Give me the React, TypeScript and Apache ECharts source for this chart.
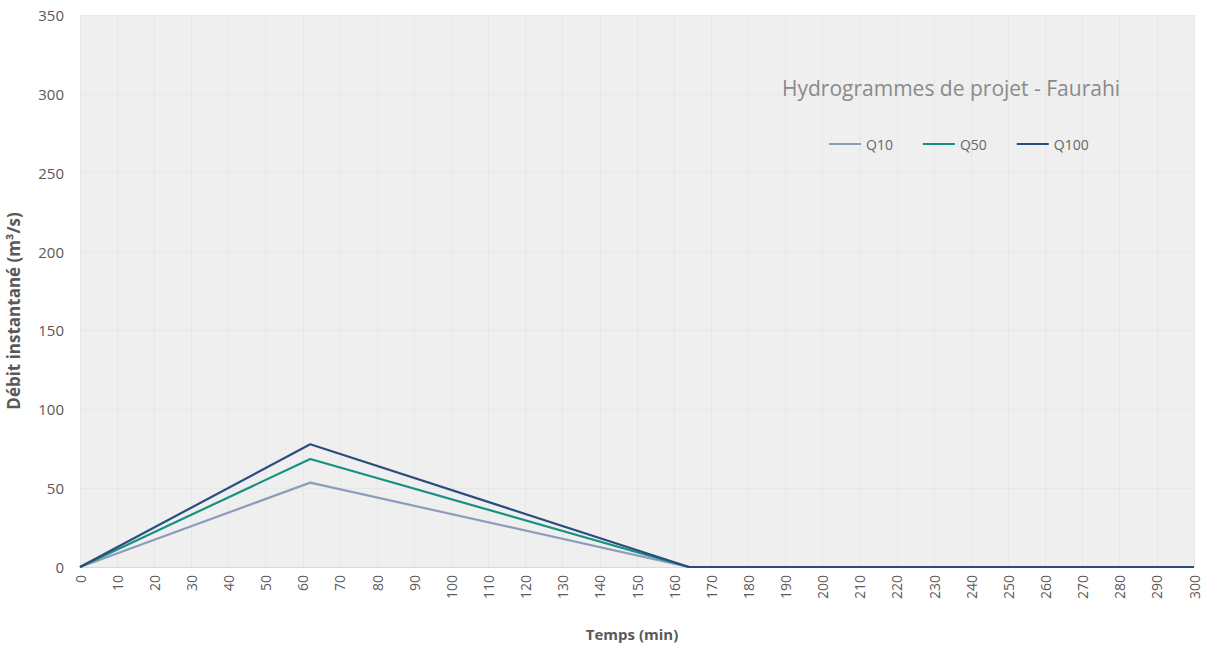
import React, { useEffect, useRef } from "react";
import * as echarts from "echarts";

const times = [0, 62, 164, 300];
const q10 = [0, 53.5, 0, 0];
const q50 = [0, 68.5, 0, 0];
const q100 = [0, 77.8, 0, 0];
const seriesNames = ["Q10", "Q50", "Q100"];
const colors = ["#8e9cbc", "#17917f", "#2b4d7e"];

export default function App() {
  const ref = useRef<HTMLDivElement>(null);
  useEffect(() => {
    document.body.style.margin = "0";
    const chart = echarts.init(ref.current!, null, { renderer: "svg" });
    const mk = (vals: number[]) => times.map((t, i) => [t, vals[i]]);
    const all = [q10, q50, q100];
    chart.setOption({
      animation: false,
      backgroundColor: "#ffffff",
      textStyle: { fontFamily: "Open Sans" },
      title: {
        text: "Hydrogrammes de projet - Faurahi",
        left: 777,
        top: 72,
        textStyle: { fontSize: 21, fontWeight: "normal", color: "#8a8a8a", fontFamily: "Open Sans" },
      },
      legend: {
        left: 824,
        top: 132,
        itemWidth: 32,
        itemHeight: 2,
        itemGap: 30,
        icon: "rect",
        textStyle: { fontSize: 14, color: "#666", fontFamily: "Open Sans" },
        data: seriesNames,
      },
      grid: {
        left: 80,
        right: 15,
        top: 15,
        bottom: 86,
        show: true,
        backgroundColor: "#efefef",
        borderWidth: 0,
        containLabel: false,
        outerBoundsMode: "none",
      },
      xAxis: {
        type: "value",
        min: 0,
        max: 300,
        interval: 10,
        name: "Temps (min)",
        nameLocation: "middle",
        nameGap: 59,
        nameTextStyle: { fontWeight: "bold", fontSize: 15, color: "#595959", padding: [0, 10, 0, 0] },
        axisLine: { show: true, lineStyle: { color: "#d9d9d9" } },
        axisTick: { show: false },
        axisLabel: { rotate: 90, color: "#595959", fontSize: 14, margin: 8 },
        splitLine: { show: true, lineStyle: { color: "#e7e7e7", width: 1 } },
      },
      yAxis: {
        type: "value",
        min: 0,
        max: 350,
        interval: 50,
        name: "Débit instantané (m³/s)",
        nameLocation: "middle",
        nameGap: 58,
        nameTextStyle: { fontWeight: "bold", fontSize: 17, color: "#595959", padding: [0, 40, 0, 0] },
        axisLine: { show: false },
        axisTick: { show: false },
        axisLabel: { color: "#595959", fontSize: 15, margin: 16 },
        splitLine: { show: true, lineStyle: { color: "#e7e7e7", width: 1 } },
      },
      series: seriesNames.map((n, i) => ({
        name: n,
        type: "line",
        data: mk(all[i]),
        symbol: "none",
        lineStyle: { color: colors[i], width: 2.2 },
        itemStyle: { color: colors[i] },
        z: 2 + i,
      })),
    });
    return () => chart.dispose();
  }, []);
  return <div ref={ref} style={{ width: 1209, height: 653 }} />;
}
